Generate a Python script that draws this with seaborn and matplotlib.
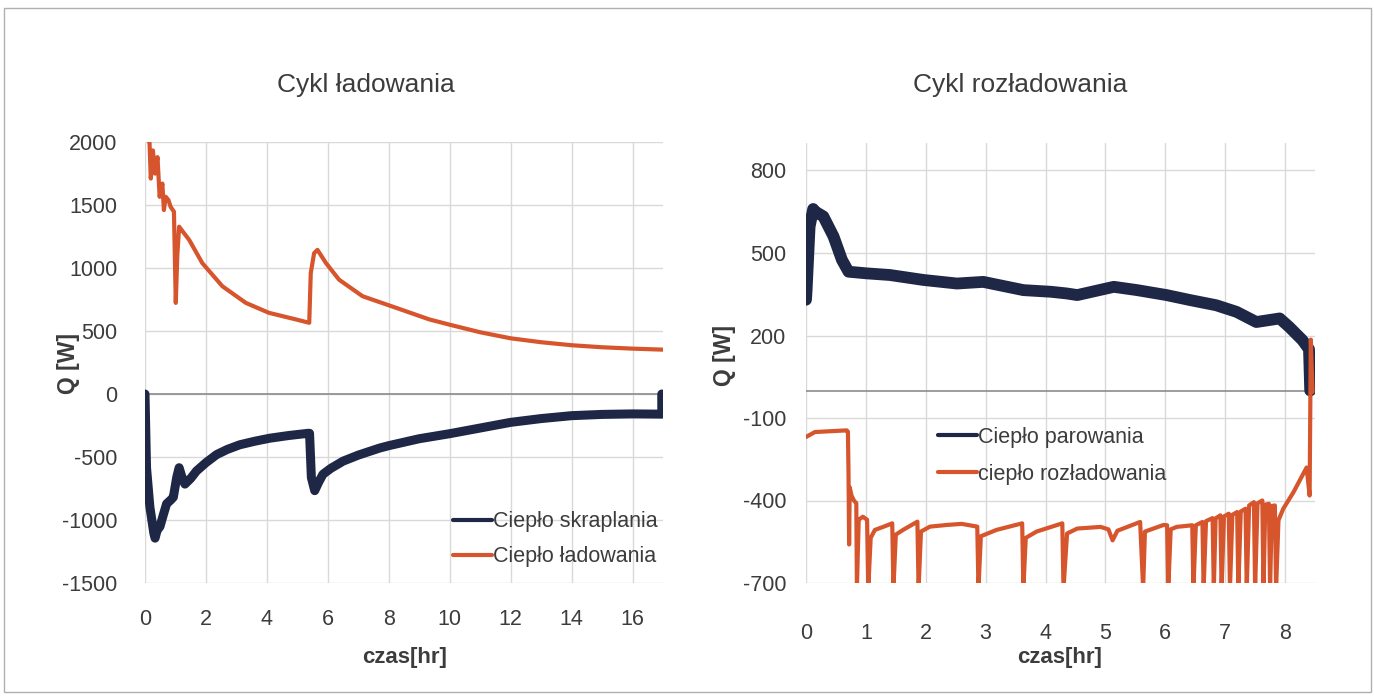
import matplotlib
matplotlib.use("Agg")
import matplotlib.pyplot as plt
import seaborn as sns
from matplotlib.patches import Rectangle

# -----------------------------
# Data
# -----------------------------

# Cykl ładowania - Ciepło skraplania (dark)
t_skrap = [0.0, 0.05, 0.16, 0.29, 0.33, 0.40, 0.49, 0.60, 0.71, 0.85, 0.93,
           1.04, 1.12, 1.20, 1.31, 1.50, 1.69, 2.0, 2.35, 2.7, 3.11, 3.6, 4.09,
           4.7, 5.35, 5.40, 5.46, 5.57, 5.70, 5.84, 6.1, 6.5, 7.0, 7.7, 8.0,
           9.0, 10.0, 11.0, 12.0, 13.0, 14.0, 15.0, 16.0, 16.96, 16.96]
q_skrap = [0, -585, -897, -1105, -1144, -1080, -1053, -960, -871, -840, -819,
           -663, -585, -650, -715, -670, -611, -545, -481, -440, -403, -375, -351,
           -330, -312, -312, -663, -767, -700, -637, -590, -533, -485, -429, -410,
           -355, -315, -270, -225, -195, -172, -162, -158, -160, 0]

# Cykl ładowania - Ciepło ładowania (orange)
t_lad = [0.10, 0.13, 0.15, 0.19, 0.26, 0.33, 0.41, 0.48, 0.57, 0.62, 0.68,
         0.77, 0.84, 0.95, 1.01, 1.06, 1.12, 1.20, 1.45, 1.88, 2.54, 3.31, 4.07,
         4.95, 5.39, 5.44, 5.55, 5.66, 5.94, 6.37, 7.14, 8.24, 9.33, 10.0, 11.0,
         12.0, 13.0, 14.0, 15.0, 16.0, 17.0]
q_lad = [2100, 2012, 1986, 1710, 1933, 1749, 1880, 1565, 1670, 1460, 1565,
         1539, 1486, 1447, 723, 1100, 1328, 1302, 1223, 1039, 855, 723, 644,
         592, 565, 960, 1118, 1144, 1039, 907, 776, 684, 592, 550, 490,
         442, 411, 387, 371, 360, 352]

# Cykl rozładowania - Ciepło parowania (dark)
t_par = [0.0, 0.01, 0.06, 0.12, 0.15, 0.29, 0.46, 0.60, 0.71, 1.01, 1.4, 1.96,
         2.52, 2.96, 3.63, 4.09, 4.35, 4.53, 5.14, 5.53, 6.02, 6.41, 6.85, 7.19,
         7.52, 7.91, 8.07, 8.29, 8.40, 8.42]
q_par = [330, 365, 596, 660, 651, 633, 560, 475, 432, 426, 420, 402,
         389, 395, 365, 359, 353, 347, 377, 365, 347, 329, 310, 286,
         249, 262, 231, 183, 150, 0]

# Cykl rozładowania - ciepło rozładowania (orange)
t_roz = [0.0, 0.15, 0.68, 0.70, 0.71, 0.72, 0.73, 0.76, 0.80, 0.84, 0.85,
         0.88, 0.95, 1.02, 1.04,
         1.08, 1.15, 1.30, 1.44, 1.46,
         1.50, 1.62, 1.86, 1.88,
         1.92, 2.07, 2.35, 2.60, 2.86, 2.88,
         2.92, 3.18, 3.61, 3.63,
         3.67, 3.85, 4.28, 4.30,
         4.36, 4.53, 4.92, 5.05, 5.12, 5.20, 5.58, 5.63,
         5.66, 5.97, 6.03, 6.05,
         6.09, 6.19, 6.45, 6.47,
         6.51, 6.62, 6.64,
         6.68, 6.79, 6.81,
         6.84, 6.92, 6.94,
         6.98, 7.06, 7.08,
         7.12, 7.20, 7.22,
         7.26, 7.34, 7.36,
         7.40, 7.48, 7.50,
         7.54, 7.62, 7.64,
         7.67, 7.73, 7.75,
         7.78, 7.83, 7.85,
         7.89, 7.97, 8.14, 8.36, 8.41, 8.43, 8.46]
q_roz = [-169, -151, -145, -150, -300, -560, -352, -382, -400, -410, -720,
         -470, -459, -470, -720,
         -536, -507, -495, -483, -720,
         -524, -507, -477, -720,
         -513, -495, -489, -485, -495, -720,
         -530, -507, -483, -720,
         -536, -513, -483, -720,
         -520, -502, -496, -505, -545, -510, -478, -720,
         -513, -489, -490, -720,
         -505, -496, -490, -720,
         -490, -478, -720,
         -475, -464, -720,
         -465, -454, -720,
         -458, -448, -720,
         -452, -442, -720,
         -440, -430, -720,
         -418, -406, -720,
         -410, -400, -720,
         -415, -412, -720,
         -420, -418, -720,
         -472, -430, -370, -280, -382, 185, -5]

left_xticks = [0, 2, 4, 6, 8, 10, 12, 14, 16]
left_yticks = [2000, 1500, 1000, 500, 0, -500, -1000, -1500]
right_xticks = [0, 1, 2, 3, 4, 5, 6, 7, 8]
right_yticks = [800, 500, 200, -100, -400, -700]

NAVY = "#1f2746"
ORANGE = "#d6552c"
GRID = "#d9d9d9"
TXT = "#3c3c3c"

sns.set_style("white")
plt.rcParams["font.family"] = ["Liberation Sans", "DejaVu Sans"]
plt.rcParams["axes.unicode_minus"] = False

W, H = 1374, 698
fig = plt.figure(figsize=(W / 100, H / 100), dpi=100)


def px_axes(x0, y0, x1, y1):
    # rectangle in pixel coords (top-left origin) -> figure axes
    return fig.add_axes([x0 / W, 1 - y1 / H, (x1 - x0) / W, (y1 - y0) / H])


def style_axes(ax, xticks, yticks, xpad, ypad):
    ax.set_xticks(xticks)
    ax.set_yticks(yticks)
    ax.grid(True, color=GRID, linewidth=1.0)
    for s in ax.spines.values():
        s.set_visible(False)
    ax.axhline(0, color="#8c8c8c", linewidth=1.2, zorder=1)
    ax.tick_params(axis="x", length=0, pad=xpad, labelsize=15.5, labelcolor=TXT)
    ax.tick_params(axis="y", length=0, pad=ypad, labelsize=15.5, labelcolor=TXT)
    ax.set_xlabel("")
    ax.set_ylabel("")


# -----------------------------
# Left chart : Cykl ładowania
# -----------------------------
ax1 = px_axes(145, 142, 663, 583)
sns.lineplot(x=t_skrap, y=q_skrap, ax=ax1, color=NAVY, linewidth=6.5,
             estimator=None, sort=False, label="Ciepło skraplania")
sns.lineplot(x=t_lad, y=q_lad, ax=ax1, color=ORANGE, linewidth=3.0,
             estimator=None, sort=False, label="Ciepło ładowania")
ax1.set_xlim(0, 17)
ax1.set_ylim(-1500, 2000)
style_axes(ax1, left_xticks, left_yticks, 19, 20)
leg1 = ax1.legend(loc="center right", bbox_to_anchor=(0.99, 0.099), frameon=False,
                  fontsize=15.5, handlelength=1.8, handletextpad=0.05,
                  labelspacing=0.65, borderpad=0, borderaxespad=0)
for h in leg1.get_lines():
    h.set_linewidth(3)
for t in leg1.get_texts():
    t.set_color(TXT)

# -----------------------------
# Right chart : Cykl rozładowania
# -----------------------------
ax2 = px_axes(806, 143, 1315, 583)
sns.lineplot(x=t_par, y=q_par, ax=ax2, color=NAVY, linewidth=8.5,
             estimator=None, sort=False, label="Ciepło parowania")
sns.lineplot(x=t_roz, y=q_roz, ax=ax2, color=ORANGE, linewidth=3.0,
             estimator=None, sort=False, label="ciepło rozładowania")
ax2.set_xlim(0, 8.5)
ax2.set_ylim(-700, 900)
style_axes(ax2, right_xticks, right_yticks, 29, 14)
leg2 = ax2.legend(loc="center left", bbox_to_anchor=(0.259, 0.289), frameon=False,
                  fontsize=15.5, handlelength=1.8, handletextpad=0.05,
                  labelspacing=0.75, borderpad=0, borderaxespad=0)
for h in leg2.get_lines():
    h.set_linewidth(3)
for t in leg2.get_texts():
    t.set_color(TXT)

# titles and axis labels
fig.text(366 / W, 1 - 85 / H, "Cykl ładowania", ha="center", va="center",
         fontsize=19, color=TXT)
fig.text(1020 / W, 1 - 85 / H, "Cykl rozładowania", ha="center", va="center",
         fontsize=19, color=TXT)
fig.text(405 / W, 1 - 658 / H, "czas[hr]", ha="center", va="center",
         fontsize=16, fontweight="bold", color=TXT)
fig.text(1060 / W, 1 - 658 / H, "czas[hr]", ha="center", va="center",
         fontsize=16, fontweight="bold", color=TXT)
fig.text(68 / W, 1 - 363 / H, "Q [W]", ha="center", va="center", rotation=90,
         fontsize=16.5, fontweight="bold", color=TXT)
fig.text(725 / W, 1 - 355 / H, "Q [W]", ha="center", va="center", rotation=90,
         fontsize=16.5, fontweight="bold", color=TXT)

# outer frame
fig.patches.append(Rectangle((4 / W, 1 - 692 / H), 1367 / W, 684 / H,
                             transform=fig.transFigure, fill=False,
                             edgecolor="#b0b0b0", linewidth=1.0))

fig.savefig("out.png", dpi=100)
